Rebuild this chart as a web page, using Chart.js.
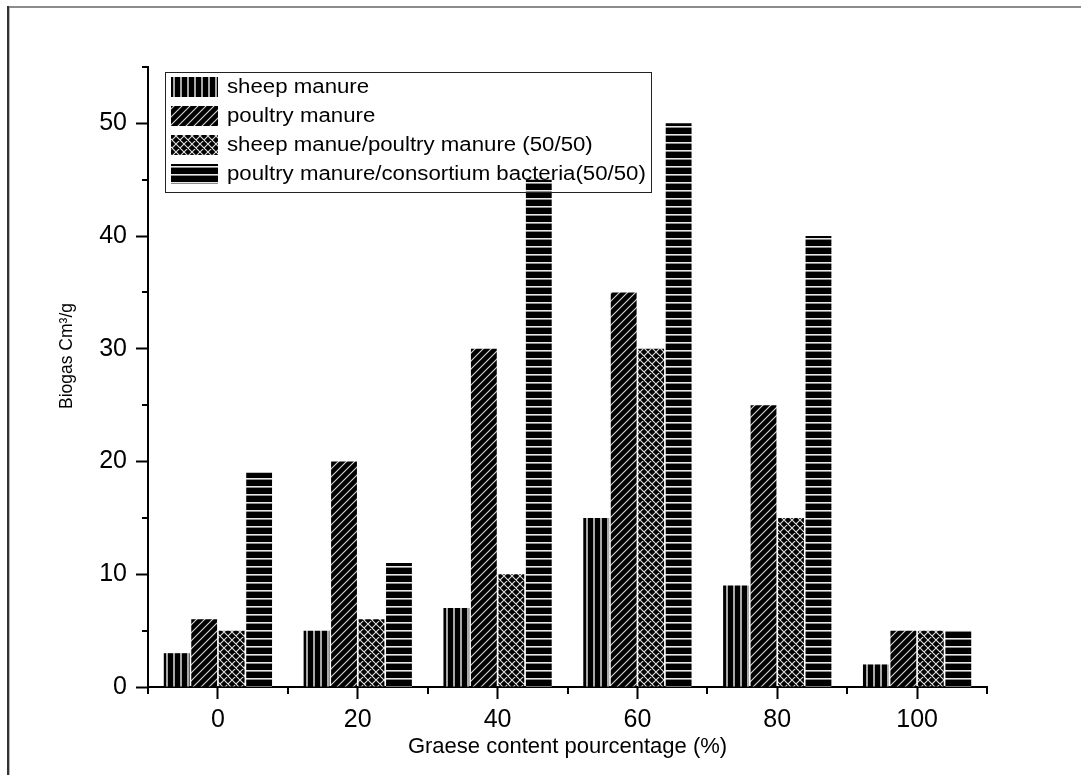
<!DOCTYPE html>
<html>
<head>
<meta charset="utf-8">
<script src="https://cdn.jsdelivr.net/npm/chart.js@4/dist/chart.umd.min.js"></script>
<style>
  html, body { margin: 0; padding: 0; background: #fff; }
  #wrap { width: 1081px; height: 775px; position: relative; }
</style>
</head>
<body>
<div id="wrap"><canvas id="c" width="1081" height="775"></canvas></div>
<script>
// ---- data ----
const categories = ['0', '20', '40', '60', '80', '100'];
const seriesLabels = [
  'sheep manure',
  'poultry manure',
  'sheep manue/poultry manure (50/50)',
  'poultry manure/consortium bacteria(50/50)'
];
const sheepManure = [3, 5, 7, 15, 9, 2];
const poultryManure = [6, 20, 30, 35, 25, 5];
const sheepPoultryMix = [5, 6, 10, 30, 15, 5];
const poultryConsortium = [19, 11, 45, 50, 40, 5];
const yMajorTicks = [0, 10, 20, 30, 40, 50];
const yMinorTicks = [5, 15, 25, 35, 45, 55];
const yMax = 55;
const xTitle = 'Graese content pourcentage (%)';
const yTitle = 'Biogas Cm\u00B3/g';

const FONT = '"Liberation Sans", Arial, Helvetica, sans-serif';

// ---- patterns ----
function makePattern(w, h, draw) {
  const c = document.createElement('canvas');
  c.width = w; c.height = h;
  const g = c.getContext('2d');
  g.fillStyle = '#000';
  g.fillRect(0, 0, w, h);
  draw(g, w, h);
  return g.createPattern(c, 'repeat');
}
const ctxMain = document.getElementById('c').getContext('2d');
const patVertical = makePattern(7, 4, (g, w, h) => {
  g.fillStyle = '#a8a8a8';
  g.fillRect(5, 0, 2, h);
});
const patDiagonal = makePattern(8, 8, (g, w, h) => {
  g.strokeStyle = '#d8d8d8';
  g.lineWidth = 1.1;
  g.beginPath();
  g.moveTo(-1, h + 1); g.lineTo(w + 1, -1);
  g.moveTo(-1, 1); g.lineTo(1, -1);
  g.moveTo(w - 1, h + 1); g.lineTo(w + 1, h - 1);
  g.stroke();
});
const patCross = makePattern(8, 8, (g, w, h) => {
  g.strokeStyle = '#e0e0e0';
  g.lineWidth = 1.1;
  g.beginPath();
  g.moveTo(-1, h + 1); g.lineTo(w + 1, -1);
  g.moveTo(-1, 1); g.lineTo(1, -1);
  g.moveTo(w - 1, h + 1); g.lineTo(w + 1, h - 1);
  g.moveTo(-1, -1); g.lineTo(w + 1, h + 1);
  g.moveTo(w - 1, -1); g.lineTo(w + 1, 1);
  g.moveTo(-1, h - 1); g.lineTo(1, h + 1);
  g.stroke();
});
const patHorizontal = makePattern(4, 8, (g, w, h) => {
  g.fillStyle = '#e8e8e8';
  g.fillRect(0, 6, w, 1);
  g.fillStyle = '#8a8a8a';
  g.fillRect(0, 7, w, 1);
});
const patterns = [patVertical, patDiagonal, patCross, patHorizontal];
const seriesData = [sheepManure, poultryManure, sheepPoultryMix, poultryConsortium];

// ---- plugins ----
const framePlugin = {
  id: 'frame',
  beforeDraw(chart) {
    const ctx = chart.ctx;
    ctx.save();
    ctx.fillStyle = '#fff';
    ctx.fillRect(0, 0, chart.width, chart.height);
    ctx.fillStyle = '#8c8c8c';
    ctx.fillRect(8, 6, chart.width - 8, 2);
    ctx.fillStyle = '#333';
    ctx.fillRect(7, 6, 2, chart.height - 6);
    ctx.fillStyle = '#b5b5b5';
    ctx.fillRect(9, 8, 1, chart.height - 8);
    ctx.restore();
  }
};

const axisExtras = {
  id: 'axisExtras',
  afterDraw(chart) {
    const { ctx, scales: { x, y } } = chart;
    ctx.save();
    ctx.strokeStyle = '#000';
    ctx.lineWidth = 2;
    // minor y ticks
    yMinorTicks.forEach(v => {
      const py = Math.round(y.getPixelForValue(v));
      ctx.beginPath();
      ctx.moveTo(y.right, py);
      ctx.lineTo(y.right - 6, py);
      ctx.stroke();
    });
    // minor x ticks at category boundaries
    const step = x.getPixelForValue(1) - x.getPixelForValue(0);
    for (let i = 0; i <= categories.length; i++) {
      const px = Math.round(x.getPixelForValue(0) - step / 2 + i * step);
      ctx.beginPath();
      ctx.moveTo(px, x.top);
      ctx.lineTo(px, x.top + 7);
      ctx.stroke();
    }
    // y-axis title (rotated)
    ctx.fillStyle = '#000';
    ctx.font = '17.5px ' + FONT;
    ctx.textAlign = 'center';
    ctx.textBaseline = 'middle';
    ctx.translate(67, 356);
    ctx.rotate(-Math.PI / 2);
    ctx.fillText(yTitle, 0, 0);
    ctx.restore();

    // legend
    ctx.save();
    const lx = 165, ly = 72, lw = 486, lh = 120;
    ctx.strokeStyle = '#222';
    ctx.lineWidth = 1;
    ctx.strokeRect(lx + 0.5, ly + 0.5, lw, lh);
    ctx.font = '19.5px ' + FONT;
    ctx.textAlign = 'left';
    ctx.textBaseline = 'middle';
    chart.data.datasets.forEach((ds, i) => {
      const cy = ly + 15 + i * 29;
      ctx.fillStyle = ds.backgroundColor;
      ctx.fillRect(lx + 6, cy - 10, 47, 20);
      ctx.fillStyle = '#000';
      ctx.save();
      ctx.translate(lx + 62, cy + 1);
      ctx.scale(1.14, 1);
      ctx.fillText(ds.label, 0, 0);
      ctx.restore();
    });
    ctx.restore();
  }
};

// ---- chart ----
new Chart(ctxMain, {
  type: 'bar',
  data: {
    labels: categories,
    datasets: seriesLabels.map((label, i) => ({
      label: label,
      data: seriesData[i],
      backgroundColor: patterns[i],
      borderWidth: 0,
      categoryPercentage: 0.786,
      barPercentage: 0.94
    }))
  },
  options: {
    responsive: false,
    animation: false,
    devicePixelRatio: 1,
    layout: { padding: { left: 0, top: 67, right: 94, bottom: 0 } },
    plugins: {
      legend: { display: false },
      tooltip: { enabled: false },
      title: { display: false }
    },
    scales: {
      x: {
        type: 'category',
        offset: true,
        grid: {
          display: true,
          offset: false,
          drawOnChartArea: false,
          drawTicks: true,
          tickLength: 12,
          tickWidth: 2,
          tickColor: '#000'
        },
        border: { display: true, color: '#000', width: 2 },
        ticks: {
          color: '#000',
          font: { family: FONT, size: 25 },
          padding: 6,
          maxRotation: 0,
          autoSkip: false
        },
        title: {
          display: true,
          text: xTitle,
          color: '#000',
          font: { family: FONT, size: 22 },
          padding: { top: 0, bottom: 15 }
        },
        afterFit(scale) { scale.height = 88; }
      },
      y: {
        min: 0,
        max: yMax,
        grid: {
          display: true,
          drawOnChartArea: false,
          drawTicks: true,
          tickLength: 12,
          tickWidth: 2,
          tickColor: '#000'
        },
        border: { display: true, color: '#000', width: 2 },
        ticks: {
          color: '#000',
          font: { family: FONT, size: 25 },
          padding: 9
        },
        afterBuildTicks(scale) {
          scale.ticks = yMajorTicks.map(v => ({ value: v }));
        },
        afterFit(scale) { scale.width = 148; }
      }
    }
  },
  plugins: [framePlugin, axisExtras]
});
</script>
</body>
</html>
